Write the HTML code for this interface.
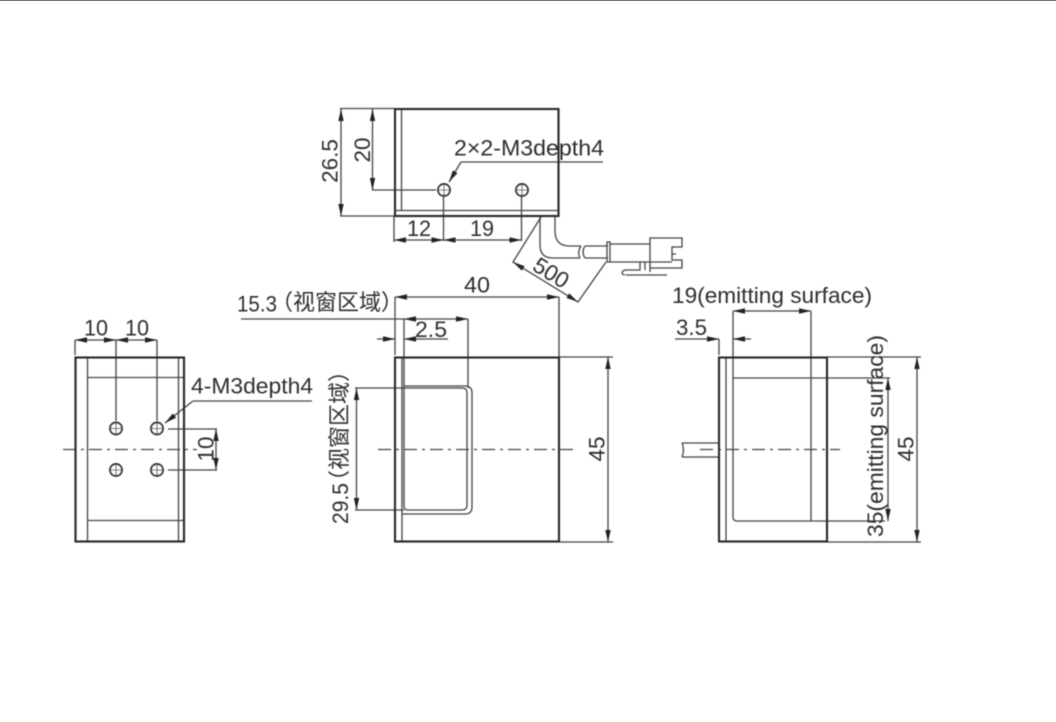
<!DOCTYPE html>
<html><head><meta charset="utf-8"><style>
html,body{margin:0;padding:0;background:#fff;width:1056px;height:722px;overflow:hidden}
svg{display:block}
text{font-family:"Liberation Sans","Noto Sans CJK SC",sans-serif;font-size:22.5px;fill:#2e2e2e}
.l{font-size:22px}
.c{font-size:22px}
</style></head><body>
<svg width="1056" height="722" viewBox="0 0 1056 722" xmlns="http://www.w3.org/2000/svg">
<defs>
<filter id="b" x="-5%" y="-5%" width="110%" height="110%"><feGaussianBlur stdDeviation="0.55"/></filter>
<g id="ar"><path d="M0 0L-12 -2.7L-12 2.7Z" fill="#222" stroke="none"/></g>
<g id="hole"><circle r="6" fill="#fff" stroke="#333" stroke-width="1.9"/><path d="M-6 0H6M0 -6V6" stroke="#555" stroke-width="1.1"/></g>
</defs>
<rect x="0" y="0" width="1056" height="1" fill="#777"/>
<g filter="url(#b)">
<g fill="none" stroke="#444" stroke-width="1.3">
<!-- top view -->
<path d="M340 108.5H394M340 216H394M341 109V216M372.5 109V190H436"/>
<path d="M394 216V242M443.5 197V241M521.5 197V241M394 240H521.5"/>
<path d="M461 162H603M461 162L449 182"/>
<path d="M401.5 109V211M395 210.5H558"/>
<!-- cable -->
<path d="M555 217V231Q555 245 568 246H581M540 217V245Q540 258 553 258H580M581 246Q577 252 580 258M585 246Q581 252 585 258M585 246H608M585 258H608"/>
<path d="M607 242H610V262H607ZM610 244H650M610 262H650M650 238H682V247H672V260H682V268H650ZM672 254H676M650 262H672"/>
<path d="M622 274Q622 270 626 270H640V262M645 262V270M626 275H667M622 274L625 275M650 268V272"/>
<!-- 500 -->
<path d="M541 217L513 262L578 302L606 262"/>
<!-- left view -->
<path d="M87.5 357V542M178.5 357V542M87 377.5H184M87 520.5H184"/>
<path d="M75 340V355M116 340V421M157 340V421M75 340H157"/>
<path d="M193 401H312M193 401L165 423"/>
<path d="M168 429H217M168 470H217M216 429V470"/>
<path d="M63 449.5H197" stroke-dasharray="13 5 3 5"/>
<!-- middle view -->
<path d="M402 357V542"/>
<path d="M404 386H465Q472 386 472 393V507Q472 514 465 514H402"/>
<path d="M404 319V506Q404 510 408 510H462Q467 510 467 505V393Q467 388 462 388H355M404 510H355M356.5 388V510"/>
<path d="M395 297V355M559 297V357M395 297H559M241 319H468M468 319V388"/>
<path d="M377 339H395M404 339H448M559 357H613M559 542H613M608 357V542"/>
<path d="M378 449.5H575" stroke-dasharray="13 5 3 5"/>
<!-- right view -->
<path d="M726 357V542"/>
<path d="M733 378H890M733 378V517Q733 521 737 521H885M811 378V521"/>
<path d="M733 311V378M811 311V378M733 311H811M719 339V355M675 339H719M733 339H751"/>
<path d="M827 357H921M827 542H921M917 357V542M888 378V521"/>
<path d="M682 443H719M682 457H719M682 443Q685 450 682 457"/>
<path d="M700 449.5H840" stroke-dasharray="13 5 3 5"/>
</g>
<!-- outlines -->
<g fill="none" stroke="#262626" stroke-width="2.1">
<rect x="395" y="109" width="163.5" height="107"/>
<rect x="75.5" y="357.5" width="108.5" height="184"/>
<rect x="395" y="357.5" width="164" height="184"/>
<rect x="719" y="357.5" width="108" height="184"/>
</g>
<use href="#hole" x="444" y="190"/><use href="#hole" x="522" y="190"/>
<use href="#hole" x="116" y="428.5"/><use href="#hole" x="157" y="428.5"/>
<use href="#hole" x="116" y="470"/><use href="#hole" x="157" y="470"/>
<!-- arrowheads -->
<use href="#ar" transform="translate(341 109) rotate(-90)"/><use href="#ar" transform="translate(341 216) rotate(90)"/>
<use href="#ar" transform="translate(372.5 109) rotate(-90)"/><use href="#ar" transform="translate(372.5 190) rotate(90)"/>
<use href="#ar" transform="translate(394 240) rotate(180)"/><use href="#ar" transform="translate(443.5 240)"/>
<use href="#ar" transform="translate(443.5 240) rotate(180)"/><use href="#ar" transform="translate(521.5 240)"/>
<use href="#ar" transform="translate(449 182) rotate(121)"/>
<use href="#ar" transform="translate(513 262) rotate(212)"/><use href="#ar" transform="translate(578 302) rotate(32)"/>
<use href="#ar" transform="translate(75 340) rotate(180)"/><use href="#ar" transform="translate(116 340)"/>
<use href="#ar" transform="translate(116 340) rotate(180)"/><use href="#ar" transform="translate(157 340)"/>
<use href="#ar" transform="translate(165 423) rotate(142)"/>
<use href="#ar" transform="translate(216 429) rotate(-90)"/><use href="#ar" transform="translate(216 470) rotate(90)"/>
<use href="#ar" transform="translate(395 297) rotate(180)"/><use href="#ar" transform="translate(559 297)"/>
<use href="#ar" transform="translate(404 319) rotate(180)"/><use href="#ar" transform="translate(468 319)"/>
<use href="#ar" transform="translate(395 339)"/><use href="#ar" transform="translate(404 339) rotate(180)"/>
<use href="#ar" transform="translate(356.5 388) rotate(-90)"/><use href="#ar" transform="translate(356.5 510) rotate(90)"/>
<use href="#ar" transform="translate(608 357) rotate(-90)"/><use href="#ar" transform="translate(608 542) rotate(90)"/>
<use href="#ar" transform="translate(733 311) rotate(180)"/><use href="#ar" transform="translate(811 311)"/>
<use href="#ar" transform="translate(719 339)"/><use href="#ar" transform="translate(733 339) rotate(180)"/>
<use href="#ar" transform="translate(888 378) rotate(-90)"/><use href="#ar" transform="translate(888 521) rotate(90)"/>
<use href="#ar" transform="translate(917 357) rotate(-90)"/><use href="#ar" transform="translate(917 542) rotate(90)"/>
<!-- labels -->
<text class="l" x="454" y="155.5" textLength="150" lengthAdjust="spacingAndGlyphs">2×2-M3depth4</text>
<text x="407" y="236" textLength="24" lengthAdjust="spacingAndGlyphs">12</text>
<text x="470" y="236" textLength="24" lengthAdjust="spacingAndGlyphs">19</text>
<text transform="translate(337.5 161) rotate(-90)" text-anchor="middle">26.5</text>
<text transform="translate(370 150) rotate(-90)" text-anchor="middle">20</text>
<text transform="translate(551 273) rotate(32)" text-anchor="middle" dominant-baseline="central">500</text>
<text x="84" y="335.5" textLength="24" lengthAdjust="spacingAndGlyphs">10</text>
<text x="125" y="335.5" textLength="24" lengthAdjust="spacingAndGlyphs">10</text>
<text class="l" x="191" y="393.5" textLength="122" lengthAdjust="spacingAndGlyphs">4-M3depth4</text>
<text transform="translate(213.5 449) rotate(-90)" text-anchor="middle">10</text>
<text x="464" y="292.5" textLength="26" lengthAdjust="spacingAndGlyphs">40</text>
<text x="237" y="311.5" textLength="40" lengthAdjust="spacingAndGlyphs">15.3</text>
<text class="c" x="271" y="310">（视窗区域）</text>
<text x="415" y="337" textLength="32" lengthAdjust="spacingAndGlyphs">2.5</text>
<text transform="translate(348 524) rotate(-90)" textLength="41" lengthAdjust="spacingAndGlyphs">29.5</text>
<text class="c" transform="translate(347 492) rotate(-90)">（视窗区域）</text>
<text transform="translate(604.5 449) rotate(-90)" text-anchor="middle">45</text>
<text class="l" x="672" y="303" textLength="200" lengthAdjust="spacingAndGlyphs">19(emitting surface)</text>
<text x="676" y="335" textLength="31" lengthAdjust="spacingAndGlyphs">3.5</text>
<text class="l" transform="translate(883 537) rotate(-90)" textLength="202" lengthAdjust="spacingAndGlyphs">35(emitting surface)</text>
<text transform="translate(913.5 449) rotate(-90)" text-anchor="middle">45</text>
</g>
</svg>
</body></html>
